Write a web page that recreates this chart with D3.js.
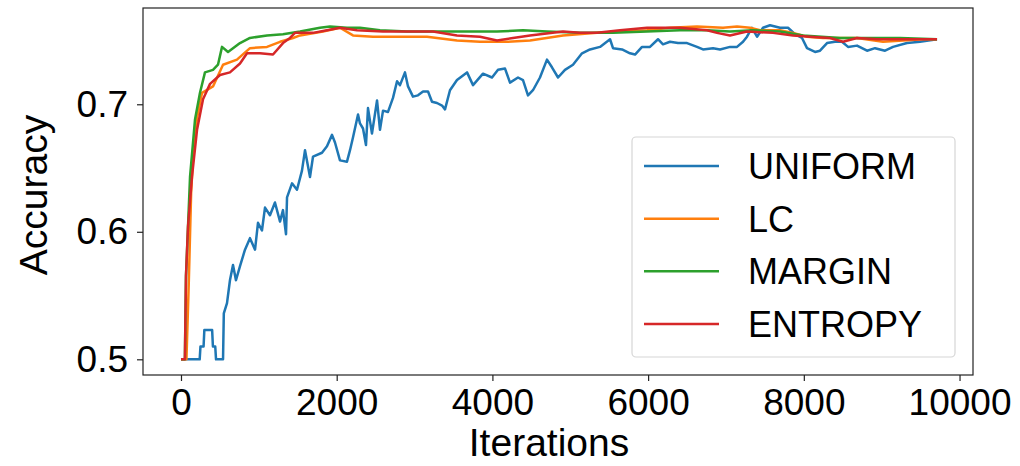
<!DOCTYPE html>
<html>
<head>
<meta charset="utf-8">
<script src="https://cdn.jsdelivr.net/npm/d3@7"></script>
<style>
  html, body { margin: 0; padding: 0; background: #fff; }
  svg { display: block; font-family: "Liberation Sans", Arial, sans-serif; }
</style>
</head>
<body>
<svg id="chart" width="1020" height="466"></svg>
<script>
// ---- data (iteration, accuracy) ----
const seriesNames = ["UNIFORM", "LC", "MARGIN", "ENTROPY"];
const seriesColors = ["#1f77b4", "#ff7f0e", "#2ca02c", "#d62728"];

const uniform = [[0,0.5],[240,0.5],[250,0.510],[290,0.510],[300,0.523],[400,0.523],[410,0.510],[440,0.510],[450,0.5],[540,0.5],[550,0.536],[591,0.544],[629,0.562],[668,0.574],[706,0.562],[758,0.573],[822,0.586],[886,0.595],[951,0.586],[989,0.607],[1040,0.601],[1079,0.619],[1143,0.613],[1207,0.623],[1272,0.608],[1310,0.617],[1349,0.598],[1362,0.627],[1426,0.638],[1490,0.633],[1554,0.648],[1593,0.664],[1657,0.643],[1696,0.659],[1811,0.662],[1875,0.667],[1940,0.676],[1978,0.670],[2042,0.656],[2132,0.655],[2171,0.664],[2209,0.674],[2274,0.692],[2299,0.685],[2338,0.681],[2376,0.668],[2402,0.697],[2453,0.677],[2518,0.703],[2556,0.680],[2595,0.695],[2659,0.694],[2723,0.705],[2775,0.718],[2813,0.715],[2877,0.725],[2916,0.714],[2980,0.706],[3044,0.707],[3109,0.710],[3173,0.710],[3224,0.702],[3288,0.701],[3353,0.699],[3391,0.696],[3455,0.711],[3545,0.719],[3674,0.725],[3751,0.715],[3879,0.724],[3995,0.721],[4072,0.727],[4162,0.728],[4226,0.717],[4329,0.721],[4393,0.719],[4457,0.707],[4521,0.711],[4611,0.721],[4701,0.735],[4765,0.729],[4843,0.721],[4932,0.727],[5035,0.731],[5151,0.740],[5254,0.743],[5382,0.745],[5511,0.751],[5549,0.744],[5665,0.743],[5767,0.740],[5832,0.739],[5922,0.745],[6024,0.745],[6127,0.751],[6191,0.747],[6281,0.749],[6384,0.748],[6500,0.748],[6628,0.745],[6705,0.743],[6834,0.744],[6924,0.743],[7052,0.745],[7142,0.745],[7219,0.749],[7270,0.753],[7334,0.760],[7399,0.753],[7476,0.760],[7566,0.762],[7694,0.760],[7797,0.760],[7887,0.755],[7977,0.752],[8041,0.744],[8144,0.741],[8208,0.742],[8298,0.748],[8400,0.749],[8490,0.749],[8568,0.745],[8683,0.746],[8812,0.742],[8915,0.744],[9043,0.742],[9146,0.745],[9325,0.748],[9492,0.749],[9711,0.751]];

const lc = [[0,0.5],[70,0.5],[100,0.56],[130,0.63],[165,0.67],[206,0.689],[270,0.709],[411,0.714],[540,0.731],[719,0.735],[886,0.744],[1105,0.745],[1272,0.749],[1439,0.752],[1529,0.754],[1824,0.757],[2042,0.760],[2209,0.754],[2466,0.753],[2813,0.753],[3160,0.753],[3545,0.750],[3841,0.749],[4188,0.749],[4483,0.750],[4907,0.754],[5344,0.756],[5677,0.757],[5986,0.758],[6281,0.760],[6628,0.761],[6962,0.760],[7142,0.761],[7309,0.760],[7437,0.758],[7694,0.758],[7861,0.756],[8041,0.753],[8247,0.752],[8683,0.752],[9017,0.749],[9274,0.750],[9531,0.751],[9711,0.751]];

const margin = [[0,0.5],[50,0.5],[64,0.565],[116,0.643],[180,0.688],[244,0.709],[308,0.725],[411,0.727],[475,0.731],[527,0.745],[604,0.741],[758,0.748],[886,0.752],[1105,0.754],[1310,0.755],[1529,0.757],[1785,0.760],[1914,0.761],[2132,0.760],[2299,0.760],[2556,0.758],[2903,0.757],[3237,0.757],[3622,0.757],[4059,0.757],[4393,0.758],[4701,0.757],[5125,0.756],[5549,0.756],[5986,0.757],[6410,0.758],[6757,0.758],[7052,0.757],[7347,0.758],[7694,0.757],[7990,0.754],[8465,0.752],[8889,0.752],[9236,0.752],[9711,0.751]];

const entropy = [[0,0.5],[50,0.5],[64,0.565],[90,0.604],[141,0.643],[206,0.680],[283,0.704],[373,0.716],[501,0.723],[629,0.725],[758,0.732],[848,0.740],[1015,0.740],[1182,0.739],[1310,0.748],[1400,0.752],[1464,0.756],[1696,0.756],[1875,0.758],[2042,0.760],[2261,0.758],[2595,0.757],[2903,0.757],[3237,0.757],[3545,0.754],[3841,0.753],[4059,0.750],[4265,0.752],[4483,0.754],[4907,0.757],[5125,0.756],[5344,0.756],[5639,0.758],[5986,0.760],[6410,0.760],[6757,0.758],[6885,0.756],[7052,0.754],[7270,0.757],[7604,0.756],[7861,0.754],[8080,0.753],[8336,0.752],[8503,0.749],[8683,0.752],[8940,0.751],[9197,0.751],[9711,0.751]];

const xTicks = [0, 2000, 4000, 6000, 8000, 10000];
const yTicks = [0.5, 0.6, 0.7];
const xLabel = "Iterations";
const yLabel = "Accuracy";

// ---- layout ----
const svg = d3.select("#chart");
const L = 143, T = 8, W = 830, H = 367;
const FS = 37, LFS = 39, LEGFS = 36;

const x = d3.scaleLinear().domain([-488, 10173]).range([L, L + W]);
const y = d3.scaleLinear().domain([0.48769, 0.7755]).range([T + H, T]);

const allSeries = [uniform, lc, margin, entropy];

const line = d3.line().x(d => x(d[0])).y(d => y(d[1]));
const g = svg.append("g");
g.selectAll("path.series").data(allSeries).join("path")
  .attr("class", "series")
  .attr("d", line)
  .attr("fill", "none")
  .attr("stroke", (d, i) => seriesColors[i])
  .attr("stroke-width", 2.5)
  .attr("stroke-linejoin", "round");

// frame
svg.append("rect").attr("x", L).attr("y", T).attr("width", W).attr("height", H)
  .attr("fill", "none").attr("stroke", "#222").attr("stroke-width", 1.2);

// axes
const xAxis = svg.append("g").attr("transform", `translate(0,${T + H})`)
  .call(d3.axisBottom(x).tickValues(xTicks).tickFormat(d3.format("d")).tickSize(6).tickSizeOuter(0).tickPadding(6));
const yAxis = svg.append("g").attr("transform", `translate(${L},0)`)
  .call(d3.axisLeft(y).tickValues(yTicks).tickFormat(d3.format(".1f")).tickSize(6).tickSizeOuter(0).tickPadding(9));
[xAxis, yAxis].forEach(a => {
  a.select(".domain").remove();
  a.selectAll(".tick line").attr("stroke", "#222").attr("stroke-width", 1.2);
  a.selectAll(".tick text").attr("fill", "#000").style("font-size", FS + "px")
    .style("font-family", '"Liberation Sans", Arial, sans-serif');
});
xAxis.selectAll(".tick text").attr("dy", "0.75em");

svg.append("text").attr("x", 549).attr("y", 456)
  .attr("text-anchor", "middle").style("font-size", LFS + "px").text(xLabel);
svg.append("text").attr("transform", `translate(47,195) rotate(-90)`)
  .attr("text-anchor", "middle").style("font-size", LFS + "px").text(yLabel);

// legend
const lg = svg.append("g");
lg.append("rect").attr("x", 632).attr("y", 137).attr("width", 323).attr("height", 220)
  .attr("rx", 4).attr("fill", "#fff").attr("fill-opacity", 0.8)
  .attr("stroke", "#d6d6d6").attr("stroke-width", 1.2);
const rowY = d3.scaleLinear().domain([0, 3]).range([166, 324]);
seriesNames.forEach((name, i) => {
  lg.append("line").attr("x1", 644).attr("x2", 719).attr("y1", rowY(i)).attr("y2", rowY(i))
    .attr("stroke", seriesColors[i]).attr("stroke-width", 2.5);
  lg.append("text").attr("x", 748).attr("y", rowY(i)).attr("dy", "0.36em")
    .style("font-size", LEGFS + "px").text(name);
});
</script>
</body>
</html>
